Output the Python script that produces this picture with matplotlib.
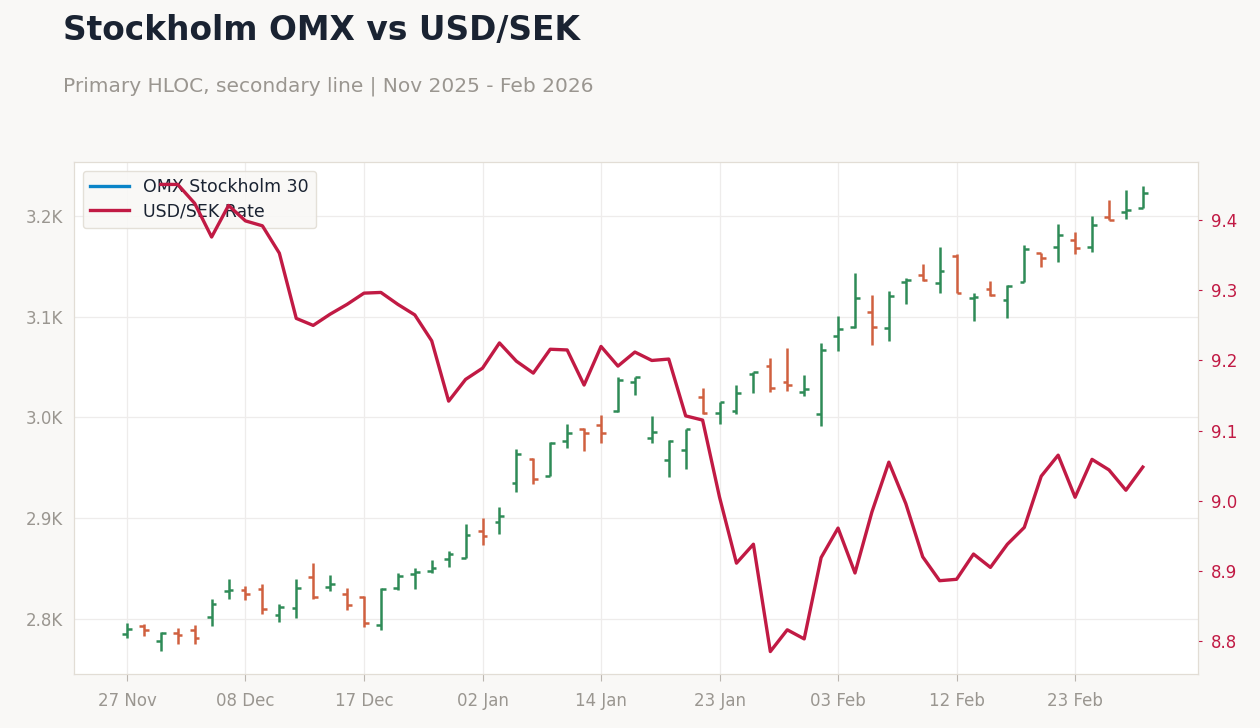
import numpy as np
import pandas as pd
import matplotlib
matplotlib.use("Agg")
import matplotlib.pyplot as plt
from matplotlib.lines import Line2D
from matplotlib.ticker import FuncFormatter, MultipleLocator

# trading days (Stockholm holidays skipped)
holidays = ["2025-12-24", "2025-12-25", "2025-12-26", "2025-12-31",
            "2026-01-01", "2026-01-06"]
dates = pd.bdate_range("2025-11-27", "2026-02-27", freq="C", holidays=holidays)

omx_open = [2785, 2793, 2778, 2786, 2789, 2802, 2827, 2828, 2829, 2804,
            2811, 2841, 2831, 2825, 2822, 2794, 2830, 2844, 2847, 2859,
            2860, 2887, 2896, 2935, 2959, 2942, 2977, 2989, 2993, 3006,
            3035, 2980, 2958, 2968, 3020, 3004, 3006, 3043, 3051, 3035,
            3025, 3003, 3081, 3090, 3105, 3089, 3135, 3142, 3134, 3161,
            3119, 3128, 3117, 3135, 3164, 3169, 3176, 3169, 3199, 3204,
            3208]
omx_high = [2796, 2795, 2787, 2791, 2794, 2820, 2839, 2832, 2834, 2815,
            2839, 2855, 2843, 2830, 2823, 2830, 2845, 2850, 2858, 2867,
            2894, 2900, 2911, 2969, 2960, 2976, 2994, 2990, 3002, 3040,
            3040, 3001, 2978, 2989, 3029, 3015, 3032, 3045, 3059, 3069,
            3042, 3074, 3101, 3144, 3122, 3126, 3139, 3153, 3169, 3163,
            3124, 3136, 3132, 3171, 3164, 3192, 3184, 3200, 3216, 3226,
            3230]
omx_low = [2781, 2783, 2768, 2775, 2775, 2793, 2820, 2819, 2805, 2797,
           2801, 2820, 2827, 2809, 2792, 2789, 2828, 2829, 2845, 2851,
           2860, 2873, 2884, 2926, 2934, 2942, 2970, 2967, 2975, 3005,
           3022, 2975, 2941, 2949, 3003, 2994, 3003, 3024, 3025, 3026,
           3021, 2992, 3066, 3089, 3072, 3076, 3113, 3136, 3124, 3124,
           3096, 3121, 3099, 3135, 3150, 3155, 3163, 3165, 3196, 3197,
           3208]
omx_close = [2790, 2789, 2786, 2784, 2781, 2815, 2828, 2825, 2810, 2812,
             2830, 2822, 2834, 2814, 2796, 2829, 2842, 2846, 2850, 2864,
             2883, 2882, 2902, 2964, 2939, 2975, 2985, 2985, 2985, 3037,
             3040, 2986, 2977, 2989, 3004, 3015, 3024, 3045, 3029, 3032,
             3028, 3067, 3088, 3119, 3090, 3121, 3137, 3137, 3146, 3124,
             3120, 3122, 3131, 3167, 3159, 3181, 3168, 3191, 3196, 3206,
             3223]
usdsek = [np.nan, np.nan, 9.451, 9.451, 9.424, 9.376, 9.421, 9.399, 9.392, 9.353,
          9.260, 9.250, 9.266, 9.280, 9.296, 9.297, 9.280, 9.265, 9.228, 9.142,
          9.173, 9.189, 9.225, 9.199, 9.182, 9.216, 9.215, 9.165, 9.220, 9.192,
          9.212, 9.200, 9.202, 9.121, 9.115, 9.005, 8.911, 8.938, 8.785, 8.816,
          8.803, 8.919, 8.961, 8.897, 8.984, 9.055, 8.996, 8.920, 8.886, 8.888,
          8.924, 8.905, 8.938, 8.962, 9.035, 9.065, 9.005, 9.059, 9.044, 9.015,
          9.048]

up_col = "#2e8b57"
down_col = "#d0603f"
line_col = "#c11a44"
blue = "#0a84c8"
grey = "#9a9690"

x = np.arange(len(dates))
o = np.array(omx_open); h = np.array(omx_high)
l = np.array(omx_low); c = np.array(omx_close)
cols = [up_col if cc >= oo else down_col for oo, cc in zip(o, c)]

fig = plt.figure(figsize=(12.6, 7.28), dpi=100, facecolor="#f9f8f6")
ax = fig.add_axes([0.0587, 0.0742, 0.8921, 0.7033])
ax.set_facecolor("white")

ax.vlines(x, l, h, colors=cols, lw=1.8, zorder=3)
ax.hlines(o, x - 0.28, x, colors=cols, lw=1.8, zorder=3)
ax.hlines(c, x, x + 0.28, colors=cols, lw=1.8, zorder=3)

ax.set_xlim(-3.13, 63.26)
ax.set_ylim(2745, 3254)
ax.yaxis.set_major_locator(MultipleLocator(100))
ax.yaxis.set_major_formatter(FuncFormatter(lambda v, p: f"{v/1000:.1f}K"))
ticks = x[::7]
ax.set_xticks(ticks)
ax.set_xticklabels([dates[i].strftime("%d %b") for i in ticks])
ax.grid(True, color="#eeeceb", lw=0.9, zorder=0)
ax.tick_params(axis="x", colors="#bbb6b0", labelcolor=grey, labelsize=12, length=5, pad=8)
ax.tick_params(axis="y", length=0, labelcolor=grey, labelsize=12, pad=8)
for s in ax.spines.values():
    s.set_color("#e2ddd5")

ax2 = ax.twinx()
ax2.plot(x, usdsek, color=line_col, lw=2.4, zorder=4)
ax2.set_ylim(8.753, 9.483)
ax2.yaxis.set_major_locator(MultipleLocator(0.1))
ax2.yaxis.set_major_formatter(FuncFormatter(lambda v, p: f"{v:.1f}"))
ax2.tick_params(axis="y", colors=line_col, labelcolor=line_col, labelsize=12, length=3, pad=6)
for s in ax2.spines.values():
    s.set_color("#e2ddd5")

handles = [Line2D([], [], color=blue, lw=2.4), Line2D([], [], color=line_col, lw=2.4)]
leg = ax.legend(handles, ["OMX Stockholm 30", "USD/SEK Rate"], loc="upper left",
                fontsize=12.5, frameon=True, facecolor="#f9f8f6", edgecolor="#e2ddd5",
                framealpha=0.9, handlelength=2.2, borderpad=0.45, labelspacing=0.35)
for t in leg.get_texts():
    t.set_color("#1a2332")

fig.text(0.05, 0.958, "Stockholm OMX vs USD/SEK", fontsize=23.7, fontweight="bold",
         color="#1a2332", va="center")
fig.text(0.05, 0.882, "Primary HLOC, secondary line | Nov 2025 - Feb 2026", fontsize=14.5,
         color=grey, va="center")

fig.savefig("out.png", dpi=100, facecolor=fig.get_facecolor())
